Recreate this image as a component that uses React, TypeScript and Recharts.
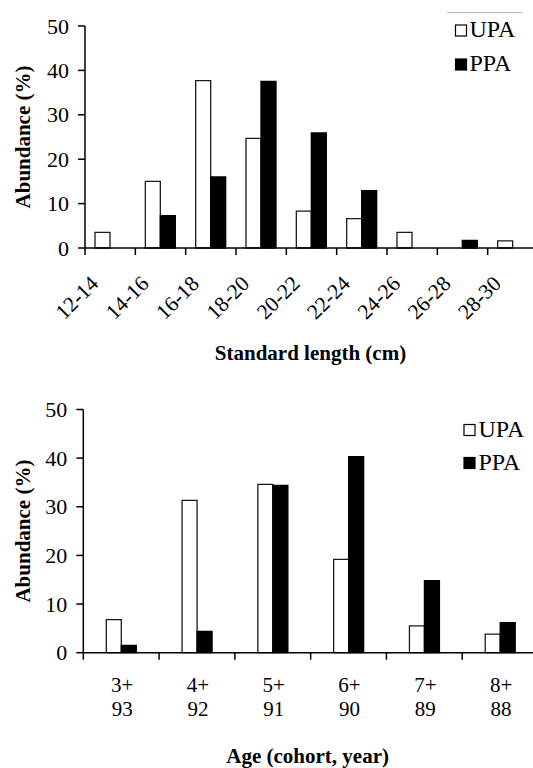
import React from 'react';
import { BarChart, Bar, XAxis, YAxis, Legend } from 'recharts';

// ---- data ----
const lengthClasses = ['12-14', '14-16', '16-18', '18-20', '20-22', '22-24', '24-26', '26-28', '28-30'];
const lengthUPA = [3.5, 15.0, 37.7, 24.7, 8.3, 6.6, 3.5, 0, 1.6];
const lengthPPA = [0, 7.3, 16.0, 37.5, 25.9, 12.9, 0, 1.7, 0];

const ageClasses = ['3+', '4+', '5+', '6+', '7+', '8+'];
const cohortYears = ['93', '92', '91', '90', '89', '88'];
const ageUPA = [6.8, 31.3, 34.6, 19.2, 5.5, 3.8];
const agePPA = [1.5, 4.4, 34.4, 40.3, 14.8, 6.2];

const yTicks = [0, 10, 20, 30, 40, 50];
const seriesNames = ['UPA', 'PPA'];

const lengthData = lengthClasses.map((c, i) => ({ cls: c, UPA: lengthUPA[i], PPA: lengthPPA[i] }));
const ageData = ageClasses.map((a, i) => ({ age: a, cohort: cohortYears[i], UPA: ageUPA[i], PPA: agePPA[i] }));

// ---- styles ----
const FONT = 'Liberation Serif';
const fontStyle = { fontFamily: FONT };
const seriesStyle: Record<string, { fill: string; stroke: string }> = {
  UPA: { fill: '#ffffff', stroke: '#1a1a1a' },
  PPA: { fill: '#000000', stroke: '#000000' },
};
const AX = { stroke: '#000', strokeWidth: 1.5 };

const TopTick = (props: any) => {
  const { x, y, payload, width } = props;
  const half = payload && typeof payload.offset === 'number' && payload.offset > 0 ? payload.offset : width / lengthClasses.length / 2;
  const lx = x - half;
  const ax = x - 10.5;
  const ay = y + 37;
  return (
    <g>
      <line x1={lx} y1={y} x2={lx} y2={y + 7} stroke="#000" strokeWidth={1.5} />
      <text x={ax} y={ay} textAnchor="end" transform={`rotate(-45 ${ax} ${ay})`} style={fontStyle} fontSize={21.5} fill="#000">
        {payload.value}
      </text>
    </g>
  );
};

const BottomTick = (props: any) => {
  const { x, y, payload, width, index } = props;
  const half = payload && typeof payload.offset === 'number' && payload.offset > 0 ? payload.offset : width / ageClasses.length / 2;
  const lx = x - half;
  return (
    <g>
      <line x1={lx} y1={y} x2={lx} y2={y + 7} stroke="#000" strokeWidth={1.5} />
      <text x={x + 1} y={y + 39.5} textAnchor="middle" style={fontStyle} fontSize={21} fill="#000">
        {payload.value}
      </text>
      <text x={x + 1} y={y + 63.5} textAnchor="middle" style={fontStyle} fontSize={21} fill="#000">
        {cohortYears[index]}
      </text>
    </g>
  );
};

const YTick = (props: any) => {
  const { x, y, payload } = props;
  return (
    <text x={x + 1} y={y} dy={7.5} textAnchor="end" style={fontStyle} fontSize={22} fill="#000">
      {payload.value}
    </text>
  );
};

const yTitle = (props: any) => {
  const vb = props.viewBox || {};
  const cx = (vb.x || 0) + 30;
  const cy = vb.y + vb.height / 2;
  return (
    <text x={cx} y={cy} textAnchor="middle" transform={`rotate(-90 ${cx} ${cy})`} style={fontStyle} fontWeight="bold" fontSize={21} fill="#000">
      Abundance (%)
    </text>
  );
};

const xTitle = (text: string, dy: number, cxShift: number) => (props: any) => {
  const vb = props.viewBox || {};
  const cx = vb.x + vb.width / 2 + cxShift;
  return (
    <text x={cx} y={vb.y + dy} textAnchor="middle" style={fontStyle} fontWeight="bold" fontSize={21} fill="#000">
      {text}
    </text>
  );
};

const makeLegend = (cfg: { sqX: number; sqY: number; txtX: number; gap: number; line?: boolean }) => (props: any) => {
  const payload = props.payload || [];
  const names: string[] = payload.length ? payload.map((p: any) => String(p.value)) : seriesNames.slice();
  const items = seriesNames.filter((n) => names.indexOf(n) >= 0);
  return (
    <svg width={93} height={92} style={{ display: 'block', overflow: 'visible' }}>
      {cfg.line ? <line x1={7} y1={12.5} x2={82} y2={12.5} stroke="#b0b0b0" strokeWidth={1} /> : null}
      {items.map((name: string, i: number) => {
        const st = seriesStyle[name] || seriesStyle.UPA;
        return (
          <g key={name}>
            <rect x={cfg.sqX} y={cfg.sqY + i * cfg.gap} width={11} height={11} fill={st.fill} stroke="#000" strokeWidth={1.2} />
            <text x={cfg.txtX} y={cfg.sqY + 12 + i * cfg.gap} style={fontStyle} fontSize={24} fill="#000">
              {name}
            </text>
          </g>
        );
      })}
    </svg>
  );
};

export default function App() {
  return (
    <div style={{ position: 'absolute', left: 0, top: 0, width: 533, height: 768, overflow: 'hidden', background: '#fff' }}>
      <div style={{ position: 'absolute', left: 0, top: 0 }}>
        <BarChart width={560} height={385} data={lengthData} margin={{ top: 26, right: 22, bottom: 0, left: 0 }} barGap={0}>
          <XAxis
            dataKey="cls"
            interval={0}
            tickLine={false}
            tickSize={0}
            tickMargin={0}
            axisLine={AX}
            height={137}
            tick={<TopTick />}
            label={xTitle('Standard length (cm)', 111.5, -1)}
          />
          <YAxis
            domain={[0, 50]}
            ticks={yTicks}
            interval={0}
            width={85}
            tickSize={7}
            tickMargin={10}
            axisLine={AX}
            tickLine={AX}
            tick={<YTick />}
            label={yTitle}
          />
          <Legend
            layout="vertical"
            align="center"
            verticalAlign="middle"
            wrapperStyle={{ left: 440, top: 0, width: 93, height: 92 }}
            content={makeLegend({ sqX: 15.5, sqY: 25, txtX: 29.5, gap: 34, line: true })}
          />
          {seriesNames.map((s) => (
            <Bar key={s} dataKey={s} name={s} fill={seriesStyle[s].fill} stroke={seriesStyle[s].stroke} strokeWidth={1.3} barSize={15} isAnimationActive={false} />
          ))}
        </BarChart>
      </div>
      <div style={{ position: 'absolute', left: 0, top: 385 }}>
        <BarChart width={560} height={383} data={ageData} margin={{ top: 24.5, right: 22, bottom: 0, left: 0 }} barGap={0}>
          <XAxis
            dataKey="age"
            interval={0}
            tickLine={false}
            tickSize={0}
            tickMargin={0}
            axisLine={AX}
            height={115.3}
            tick={<BottomTick />}
            label={xTitle('Age (cohort, year)', 110.3, -3)}
          />
          <YAxis
            domain={[0, 50]}
            ticks={yTicks}
            interval={0}
            width={83.3}
            tickSize={7}
            tickMargin={10}
            axisLine={AX}
            tickLine={AX}
            tick={<YTick />}
            label={yTitle}
          />
          <Legend
            layout="vertical"
            align="center"
            verticalAlign="middle"
            wrapperStyle={{ left: 440, top: 15, width: 93, height: 92 }}
            content={makeLegend({ sqX: 24, sqY: 24.5, txtX: 38.5, gap: 33, line: false })}
          />
          {seriesNames.map((s) => (
            <Bar key={s} dataKey={s} name={s} fill={seriesStyle[s].fill} stroke={seriesStyle[s].stroke} strokeWidth={1.3} barSize={15} isAnimationActive={false} />
          ))}
        </BarChart>
      </div>
    </div>
  );
}
